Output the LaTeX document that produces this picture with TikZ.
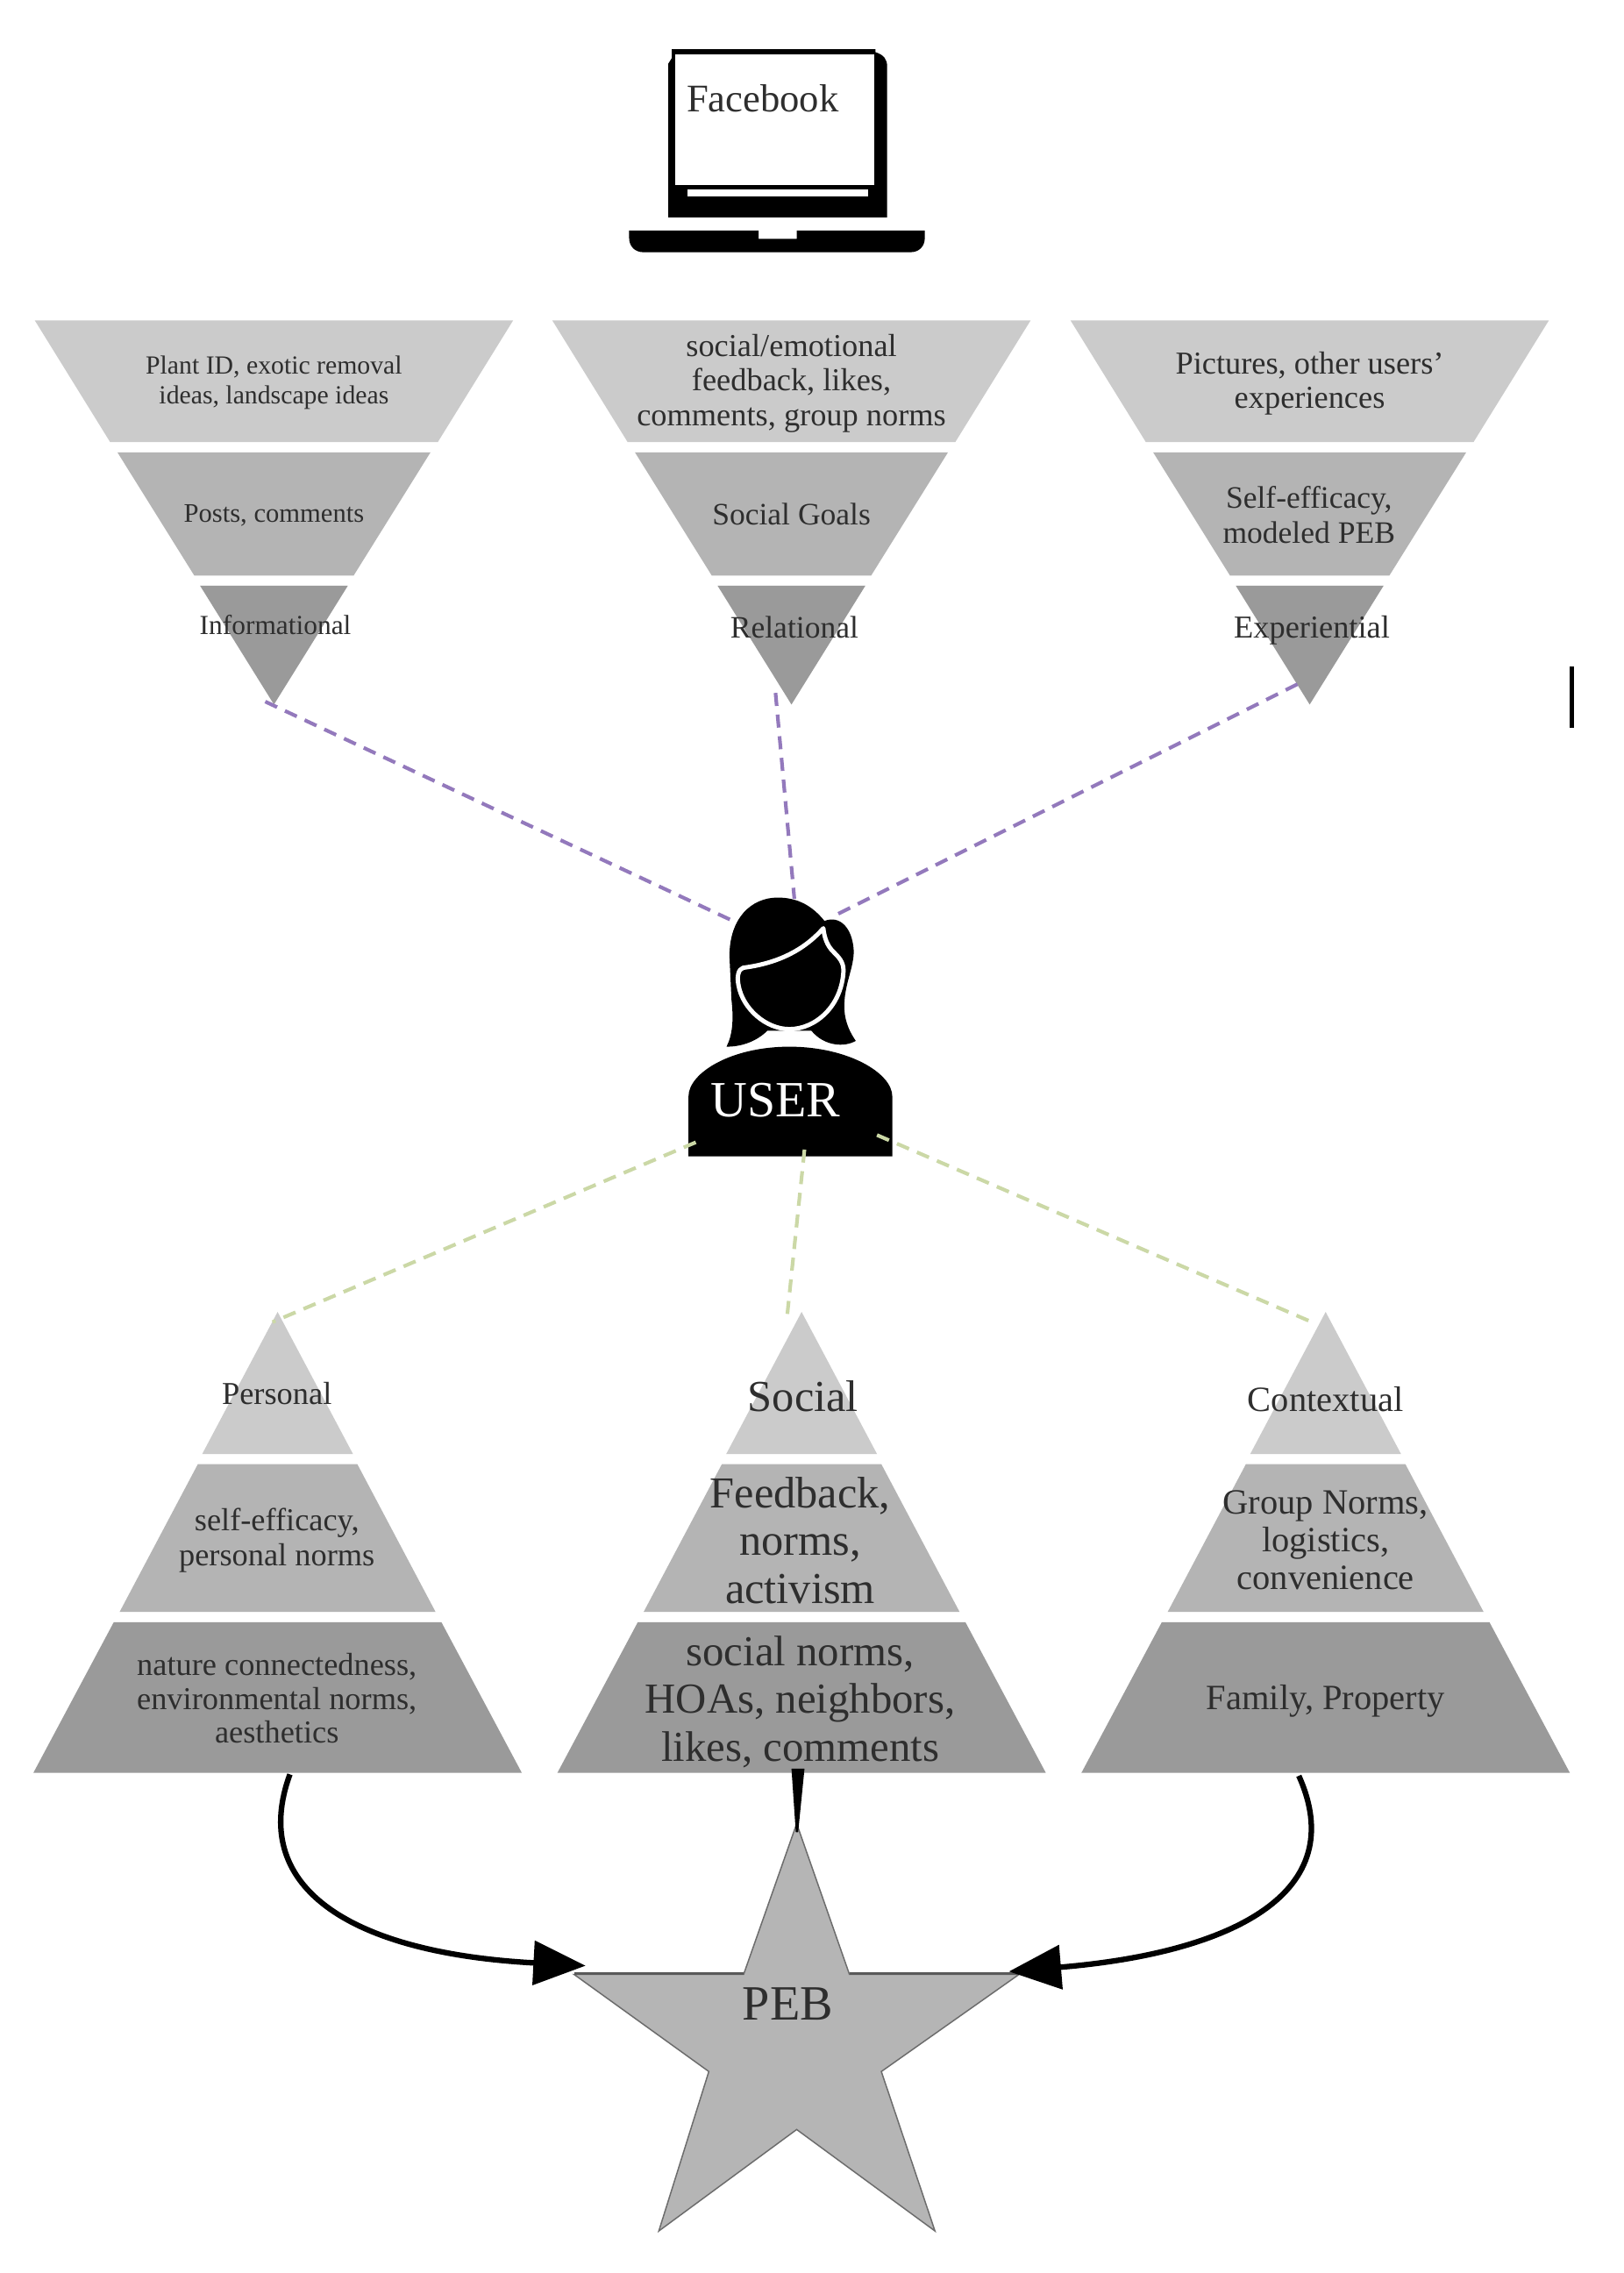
\documentclass[tikz,border=0pt]{standalone}
\usepackage{fontspec}
\setmainfont{Liberation Serif}
\usetikzlibrary{arrows.meta}
\definecolor{bandA}{HTML}{CBCBCB}
\definecolor{bandB}{HTML}{B4B4B4}
\definecolor{bandC}{HTML}{9A9A9A}
\definecolor{purpleDash}{HTML}{9379BC}
\definecolor{greenDash}{HTML}{CBD8A6}
\definecolor{starFill}{HTML}{B5B5B5}
\definecolor{inkGray}{HTML}{2E2E2E}
\tikzset{
  lbl/.style 2 args={inner sep=0pt,align=center,text=inkGray,font=\fontsize{#1}{#2}\selectfont},
  purpleLine/.style={draw=purpleDash,line width=2.5pt,dash pattern=on 9pt off 6pt},
  greenLine/.style={draw=greenDash,line width=2.5pt,dash pattern=on 9pt off 6pt},
  flow/.style={draw=black,line width=3.8pt,-{Triangle[length=36pt,width=30pt]}},
}
\begin{document}
\begin{tikzpicture}[x=1pt,y=-1pt]
\path[use as bounding box,fill=white] (0,0) rectangle (1120,1568);

% inverted pyramids
\foreach \c in {189,546,903.5}{
  \fill[bandA] (\c-165,221) -- (\c+165,221) -- (\c+113,305) -- (\c-113,305) -- cycle;
  \fill[bandB] (\c-108,312) -- (\c+108,312) -- (\c+55,397) -- (\c-55,397) -- cycle;
  \fill[bandC] (\c-51,404) -- (\c+51,404) -- (\c,486) -- cycle;
}
% upright pyramids
\foreach \c in {191.5,553,914.5}{
  \fill[bandA] (\c,905) -- (\c+52,1003) -- (\c-52,1003) -- cycle;
  \fill[bandB] (\c-55,1010) -- (\c+55,1010) -- (\c+109,1112) -- (\c-109,1112) -- cycle;
  \fill[bandC] (\c-113,1119) -- (\c+113,1119) -- (\c+168.5,1223) -- (\c-168.5,1223) -- cycle;
}

% stray mark
\coordinate (markT) at (1084.5,460);
\coordinate (markB) at (1084.5,502);
\draw[black,line width=3pt] (markT) -- (markB);

% laptop
\fill[black] (463.5,34) -- (604,34) -- (604,36) .. controls (610,38) and (612,41) .. (612,46) -- (612,150) -- (461,150) -- (461,44) -- (463.5,40) -- cycle;
\fill[white] (465.6,37.5) rectangle (603,127.5);
\fill[white] (474,130.5) rectangle (599,135.5);
\fill[black] (434,159) -- (523.4,159) -- (523.4,164.8) -- (549.6,164.8) -- (549.6,159) -- (638,159) -- (638,164) .. controls (638,170) and (634,174) .. (628,174) -- (444,174) .. controls (438,174) and (434,170) .. (434,164) -- cycle;
\node[lbl={27}{30},anchor=base west] (facebook) at (473.5,77) {Facebook};

% user icon
\begin{scope}[shift={(447.75,599)},x=0.2017pt,y=-0.2017pt]
  \fill[black] (265,610) .. controls (285,570) and (290,520) .. (282,450)
     -- (275,300) .. controls (275,170) and (350,100) .. (440,100)
     .. controls (510,100) and (560,130) .. (600,180)
     .. controls (650,160) and (695,200) .. (700,280)
     .. controls (702,340) and (665,400) .. (668,480)
     .. controls (670,530) and (690,565) .. (707,590)
     .. controls (670,612) and (600,610) .. (555,555)
     -- (405,555) .. controls (370,590) and (320,610) .. (265,610) -- cycle;
  \fill[black,draw=white,line width=3pt,line join=round] (596,205)
     .. controls (530,280) and (440,325) .. (322,340)
     .. controls (305,345) and (300,370) .. (306,400)
     .. controls (320,480) and (400,550) .. (480,550)
     .. controls (570,550) and (660,470) .. (665,350)
     .. controls (665,320) and (650,305) .. (630,285)
     .. controls (610,265) and (600,240) .. (596,205) -- cycle;
  \fill[black] (135,985) -- (135,780) .. controls (135,700) and (280,610) .. (480,610)
     .. controls (680,610) and (832,700) .. (832,780) -- (832,985) -- cycle;
\end{scope}
\node[inner sep=0pt,text=white,font=\fontsize{35}{38}\selectfont,anchor=base] (user) at (535,770.4) {USER};

% dashed connectors
\coordinate (uP1) at (505,635);
\coordinate (uP2) at (548,620);
\coordinate (uP3) at (575,632);
\coordinate (tA) at (183,484);
\coordinate (tB) at (535,478);
\coordinate (tC) at (895,472);
\draw[purpleLine] (tA) -- (uP1);
\draw[purpleLine] (tB) -- (uP2);
\draw[purpleLine] (tC) -- (uP3);
\coordinate (uG1) at (480,788);
\coordinate (uG2) at (555,793);
\coordinate (uG3) at (605,783);
\coordinate (bA) at (188,912);
\coordinate (bB) at (543,908);
\coordinate (bC) at (905,912);
\draw[greenLine] (uG1) -- (bA);
\draw[greenLine] (uG2) -- (bB);
\draw[greenLine] (uG3) -- (bC);

% star
\fill[starFill,draw=gray!85!black,line width=0.9pt,line join=miter] (549.6,1258) -- (586,1362) -- (703,1362) -- (608,1429) -- (645,1539) -- (549.6,1469) -- (454.5,1539) -- (489,1429) -- (396,1362) -- (513,1362) -- cycle;
\draw[gray!70!black,line width=1.6pt] (396,1361.5) -- (513,1361.5) (586,1361.5) -- (703,1361.5);
\node[lbl={34}{38},anchor=base] (peb) at (543.5,1393.5) {PEB};

% arrows
\coordinate (s1) at (200,1224);
\coordinate (s3) at (896,1225);
\coordinate (e1) at (404,1356);
\coordinate (e3) at (696,1360);
\draw[flow] (s1) .. controls (172,1300) and (238,1347) .. (e1);
\draw[flow] (s3) .. controls (932,1305) and (852,1347) .. (e3);
\coordinate (m1) at (546,1220);
\coordinate (m2) at (555,1220);
\coordinate (m3) at (550.6,1264);
\coordinate (m4) at (549,1264);
\fill[black] (m1) -- (m2) -- (m3) -- (m4) -- cycle;

% top labels
\node[lbl={18}{21}] (t1a) at (189,264) {Plant ID, exotic removal\\ideas, landscape ideas};
\node[lbl={18.5}{21}] (t1b) at (189,355.5) {Posts, comments};
\node[lbl={19}{21}] (t1c) at (190,431) {Informational};
\node[lbl={22}{24}] (t2a) at (546,264.5) {social/emotional\\feedback, likes,\\comments, group norms};
\node[lbl={21.5}{24}] (t2b) at (546,355) {Social Goals};
\node[lbl={21.5}{24}] (t2c) at (548,433) {Relational};
\node[lbl={22}{24}] (t3a) at (903.5,264.5) {Pictures, other users’\\experiences};
\node[lbl={21.5}{24}] (t3b) at (903,355) {Self-efficacy,\\modeled PEB};
\node[lbl={22}{24}] (t3c) at (905,434.5) {Experiential};

% bottom labels
\node[lbl={22}{24}] (b1a) at (191,961.5) {Personal};
\node[lbl={22}{24}] (b1b) at (191,1062.5) {self-efficacy,\\personal norms};
\node[lbl={22}{23.5}] (b1c) at (191,1171.5) {nature connectedness,\\environmental norms,\\aesthetics};
\node[lbl={30.5}{33}] (b2a) at (554,963) {Social};
\node[lbl={30.5}{33}] (b2b) at (552,1062.5) {Feedback,\\norms,\\activism};
\node[lbl={29.5}{33}] (b2c) at (552,1174) {social norms,\\HOAs, neighbors,\\likes, comments};
\node[lbl={24.5}{26}] (b3a) at (914.5,965.5) {Contextual};
\node[lbl={24.5}{26}] (b3b) at (914.5,1062.5) {Group Norms,\\logistics,\\convenience};
\node[lbl={24.5}{26}] (b3c) at (914.5,1173.5) {Family, Property};
\end{tikzpicture}
\end{document}
